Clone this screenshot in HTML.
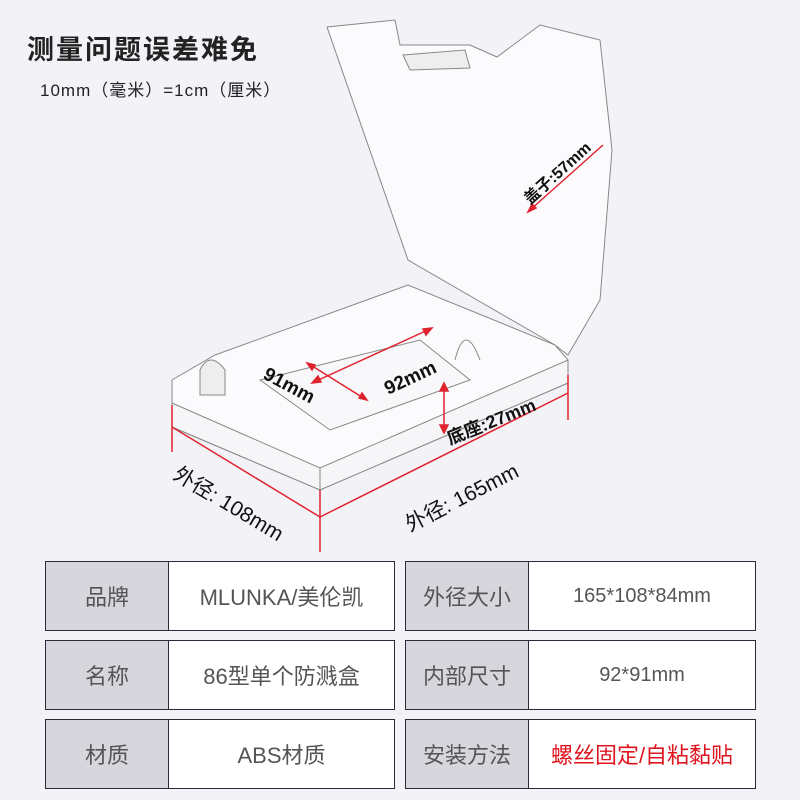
<!DOCTYPE html>
<html><head><meta charset="utf-8"><style>
body{margin:0;width:800px;height:800px;background:#f3f2f7;position:relative;overflow:hidden;font-family:"Liberation Sans","Noto Sans CJK SC",sans-serif}
.t{position:absolute;left:27px;top:28px;font-size:27px;color:#222;letter-spacing:2px;font-weight:bold}
.s{position:absolute;left:40px;top:76px;font-size:17px;color:#222;letter-spacing:1px}
.row{position:absolute;height:68px;border:1px solid #2a2a3a;background:#fff;display:flex}
.row div{display:flex;align-items:center;justify-content:center;font-size:22px;color:#555}
.row .l{width:122px;background:#d7d6dd;border-right:1px solid #2a2a3a}
.row .v{flex:1}
</style></head><body>
<svg width="800" height="800" style="position:absolute;left:0;top:0">
<g fill="#fbfbfd" stroke="#888" stroke-width="1">
<path d="M327,27 L395,20 L400,45 L470,45 L497,57 L540,25 L600,40 L612,150 L600,300 L568,355 L555,345 L408,260 Z"/>
<path d="M172,380 L215,355 L408,285 L555,345 L568,360 L568,383 L320,490 L172,427 Z"/>
<path d="M172,403 L320,468 L568,360 L568,383 L320,490 L172,427 Z" fill="#f6f6f8"/>
<path d="M260,380 L420,340 L470,380 L330,430 Z" fill="#f8f8fa"/>
<path d="M403,55 L465,50 L470,68 L410,70 Z" fill="#eee"/>
<path d="M455,360 q10,-40 25,0" fill="none"/>
<path d="M200,370 q10,-20 25,0 l0,25 l-25,0 z" fill="#eee"/>
<line x1="320" y1="468" x2="320" y2="490"/>
</g>
<g stroke="#e0232e" stroke-width="1.5" fill="#e0232e">
<line x1="172" y1="405" x2="172" y2="452"/><line x1="320" y1="490" x2="320" y2="552"/><line x1="568" y1="375" x2="568" y2="420"/>
<line x1="172" y1="427" x2="320" y2="517"/><line x1="320" y1="517" x2="568" y2="393"/>
<line x1="444" y1="386" x2="444" y2="430"/>
<path d="M444,383 l-4,8 l8,0z"/><path d="M444,433 l-4,-8 l8,0z"/>
<line x1="314" y1="382" x2="430" y2="329"/>
<path d="M312,383 l9,-1 l-3,-6z"/><path d="M432,328 l-9,1 l3,6z"/>
<line x1="309" y1="364" x2="365" y2="399"/>
<path d="M307,363 l5,7 l3,-5z"/><path d="M367,400 l-5,-7 l-3,5z"/>
<line x1="530" y1="210" x2="603" y2="145"/>
<path d="M528,212 l4,-8 l4,4z"/>
</g>
<g font-family="Liberation Sans,Noto Sans CJK SC,sans-serif" fill="#111">
<text x="262" y="378" font-size="19" font-weight="bold" transform="rotate(28 262 378)">91mm</text>
<text x="388" y="395" font-size="19" font-weight="bold" transform="rotate(-25 388 395)">92mm</text>
<text x="450" y="445" font-size="18" font-weight="bold" transform="rotate(-22 450 445)">底座:27mm</text>
<text x="530" y="205" font-size="16" font-weight="bold" transform="rotate(-42 530 205)">盖子:57mm</text>
<text x="172" y="478" font-size="21" transform="rotate(31 172 478)">外径: 108mm</text>
<text x="410" y="532" font-size="21" transform="rotate(-27 410 532)">外径: 165mm</text>
</g>
</svg>
<div class="t">测量问题误差难免</div>
<div class="s">10mm（毫米）=1cm（厘米）</div>
<div class="row" style="left:45px;top:561px;width:348px"><div class="l">品牌</div><div class="v">MLUNKA/美伦凯</div></div>
<div class="row" style="left:45px;top:640px;width:348px"><div class="l">名称</div><div class="v">86型单个防溅盒</div></div>
<div class="row" style="left:45px;top:719px;width:348px"><div class="l">材质</div><div class="v">ABS材质</div></div>
<div class="row" style="left:405px;top:561px;width:349px"><div class="l">外径大小</div><div class="v" style="font-size:20px">165*108*84mm</div></div>
<div class="row" style="left:405px;top:640px;width:349px"><div class="l">内部尺寸</div><div class="v" style="font-size:20px">92*91mm</div></div>
<div class="row" style="left:405px;top:719px;width:349px"><div class="l">安装方法</div><div class="v" style="color:#e0141e">螺丝固定/自粘黏贴</div></div>
</body></html>
